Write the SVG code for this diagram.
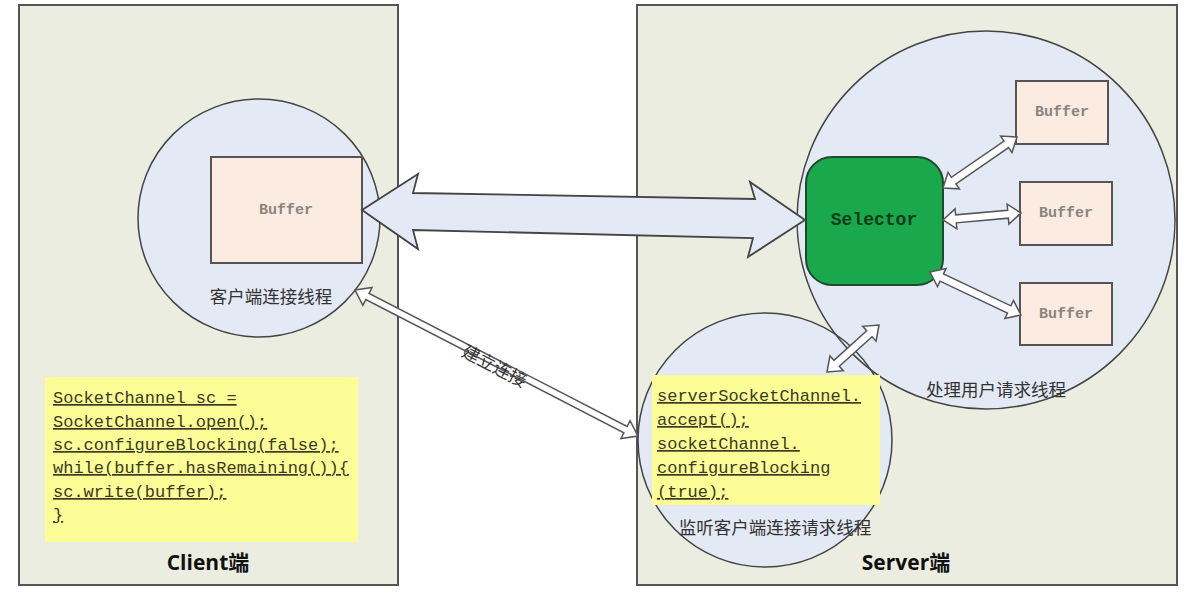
<svg xmlns="http://www.w3.org/2000/svg" width="1192" height="600" viewBox="0 0 1192 600">
<style>
.panel{fill:#eaeddf;stroke:#555;stroke-width:2}
.thread{fill:#e3e9f5}
.ring{fill:none;stroke:#444;stroke-width:1.5}
.buf{fill:#fbebe0;stroke:#555;stroke-width:2}
.buftxt{font-family:"Liberation Mono",monospace;font-size:15px;font-weight:bold;fill:#8a8580;text-anchor:middle;dominant-baseline:central}
.cjk{font-family:"Noto Sans CJK SC",sans-serif;font-size:17.5px;fill:#333;text-anchor:middle;dominant-baseline:central}
.code{fill:#fdfd98}
.codetxt{font-family:"Liberation Mono",monospace;font-size:17px;fill:#3a3a22;text-decoration:underline}
.title{font-family:"Open Sans","Noto Sans CJK SC",sans-serif;font-size:21px;font-weight:bold;fill:#111;text-anchor:middle;dominant-baseline:central}
.arr{fill:#fff;stroke:#555;stroke-width:1.5;stroke-linejoin:miter}
.big{fill:#e3e9f5;stroke:#444;stroke-width:1.8}
</style>

<g id="client">
<rect class="panel" x="19" y="5" width="379" height="580"/>
<text class="title" x="208" y="562">Client端</text>
</g>

<g id="server">
<rect class="panel" x="637" y="5" width="540" height="580"/>
<text class="title" x="906" y="562">Server端</text>
</g>

<g id="client-thread">
<ellipse class="thread" cx="259" cy="218" rx="121" ry="119"/>
<ellipse class="ring" cx="259" cy="218" rx="121" ry="119"/>
<text class="cjk" x="271" y="295">客户端连接线程</text>
</g>

<g id="client-buffer">
<rect class="buf" x="211" y="157" width="151" height="106"/>
<text class="buftxt" x="286" y="210">Buffer</text>
</g>

<g id="client-code">
<rect class="code" x="45" y="377" width="313" height="165"/>
<text class="codetxt" x="53" y="403">SocketChannel sc =</text>
<text class="codetxt" x="53" y="427">SocketChannel.open();</text>
<text class="codetxt" x="53" y="450">sc.configureBlocking(false);</text>
<text class="codetxt" x="53" y="473">while(buffer.hasRemaining()){</text>
<text class="codetxt" x="53" y="497">sc.write(buffer);</text>
<text class="codetxt" x="53" y="520">}</text>
</g>

<g id="listen-thread">
<circle class="thread" cx="765" cy="440" r="127"/>
</g>
<g id="worker-thread">
<circle class="thread" cx="986" cy="220" r="189"/>
<circle class="ring" cx="765" cy="440" r="127"/>
<circle class="ring" cx="986" cy="220" r="189"/>
<text class="cjk" x="996" y="388">处理用户请求线程</text>
</g>

<g id="server-code">
<rect class="code" x="652" y="375" width="228" height="130"/>
<text class="codetxt" x="657" y="401">serverSocketChannel.</text>
<text class="codetxt" x="657" y="425">accept();</text>
<text class="codetxt" x="657" y="449">socketChannel.</text>
<text class="codetxt" x="657" y="473">configureBlocking</text>
<text class="codetxt" x="657" y="497">(true);</text>
<text class="cjk" x="775" y="526">监听客户端连接请求线程</text>
</g>

<g id="selector">
<rect x="806" y="157" width="137" height="128" rx="26" ry="26" fill="#1aa84c" stroke="#1f4a2a" stroke-width="2"/>
<text x="874" y="220" font-family="Liberation Mono,monospace" font-size="18" font-weight="bold" fill="#0c3d18" text-anchor="middle" dominant-baseline="central">Selector</text>
</g>

<g id="buffer1">
<rect class="buf" x="1016" y="81" width="92" height="63"/>
<text class="buftxt" x="1062" y="112">Buffer</text>
</g>
<g id="buffer2">
<rect class="buf" x="1020" y="182" width="92" height="63"/>
<text class="buftxt" x="1066" y="213">Buffer</text>
</g>
<g id="buffer3">
<rect class="buf" x="1020" y="283" width="92" height="62"/>
<text class="buftxt" x="1066" y="314">Buffer</text>
</g>

<g id="connectors">
<polygon class="big" points="362,210 418,174 413,193 755,199 750,182 805,220 748,257 753,238 413,230 418,249"/>
<polygon class="arr" transform="translate(943,188) rotate(-34.6)" points="0,0 13,-10 13,-4 76.9,-4 76.9,-10 89.9,0 76.9,10 76.9,4 13,4 13,10"/>
<polygon class="arr" transform="translate(943,220) rotate(-5.1)" points="0,0 13,-10 13,-4 65.3,-4 65.3,-10 78.3,0 65.3,10 65.3,4 13,4 13,10"/>
<polygon class="arr" transform="translate(930,272) rotate(25.3)" points="0,0 13,-10 13,-4 87.6,-4 87.6,-10 100.6,0 87.6,10 87.6,4 13,4 13,10"/>
<polygon class="arr" transform="translate(827,372) rotate(-42.1)" points="0,0 13,-10 13,-4 57.1,-4 57.1,-10 70.1,0 57.1,10 57.1,4 13,4 13,10"/>
<polygon class="arr" transform="translate(355,290) rotate(27.3)" points="0,0 14,-10 14,-3.5 304.4,-3.5 304.4,-10 318.4,0 304.4,10 304.4,3.5 14,3.5 14,10"/>
<text class="cjk" x="495" y="365" font-size="15" fill="#444" transform="rotate(27.3 495 365)">建立连接</text>
</g>
</svg>
